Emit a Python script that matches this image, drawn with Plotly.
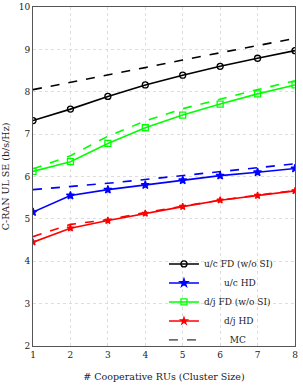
import plotly.graph_objects as go

x_vals = [1, 2, 3, 4, 5, 6, 7, 8]

uc_fd = [7.32, 7.59, 7.89, 8.16, 8.39, 8.60, 8.79, 8.97]
uc_fd_mc = [8.05, 8.22, 8.39, 8.57, 8.75, 8.92, 9.09, 9.26]
uc_hd = [5.16, 5.55, 5.69, 5.80, 5.91, 6.02, 6.10, 6.19]
uc_hd_mc = [5.69, 5.76, 5.84, 5.93, 6.02, 6.11, 6.20, 6.30]
dj_fd = [6.12, 6.35, 6.78, 7.15, 7.45, 7.71, 7.95, 8.16]
dj_fd_mc = [6.18, 6.49, 6.95, 7.31, 7.60, 7.83, 8.05, 8.26]
dj_hd = [4.45, 4.78, 4.96, 5.13, 5.29, 5.44, 5.55, 5.66]
dj_hd_mc = [4.58, 4.87, 4.98, 5.15, 5.30, 5.44, 5.56, 5.67]

y_ticks = [2, 3, 4, 5, 6, 7, 8, 9, 10]

NB = "\u00a0"
series = [
    ("u/c FD (w/o SI)", uc_fd, uc_fd_mc, "black", "circle-open", 6),
    (NB * 7 + "u/c HD", uc_hd, uc_hd_mc, "#0000ff", "star", 6),
    ("d/j FD (w/o SI)", dj_fd, dj_fd_mc, "#00ff00", "square-open", 6),
    (NB * 7 + "d/j HD", dj_hd, dj_hd_mc, "#ff0000", "star", 5),
]

fig = go.Figure()
for name, vals, mc, col, sym, ms in series:
    fig.add_trace(go.Scatter(
        x=x_vals, y=mc, mode="lines", showlegend=False,
        line=dict(color=col, width=1.6, dash="dash")))
for name, vals, mc, col, sym, ms in series:
    fig.add_trace(go.Scatter(
        x=x_vals, y=vals, mode="lines+markers", name=name,
        line=dict(color=col, width=1.6),
        marker=dict(symbol=sym, size=ms, color=col,
                    line=dict(color=col, width=1.3))))
fig.add_trace(go.Scatter(
    x=[None], y=[None], mode="lines", name=NB * 9 + "MC",
    line=dict(color="black", width=1, dash="dash")))

axis_common = dict(
    showline=True, linecolor="#555555", linewidth=1, mirror=True,
    showgrid=True, gridcolor="#dddddd", griddash="dot", gridwidth=1,
    zeroline=False, ticks="", tickfont=dict(size=9, color="#222222"),
    automargin=False, ticklabeloverflow="allow",
)
fig.update_xaxes(range=[1, 8], tickvals=x_vals, **axis_common,
                 title=dict(text="# Cooperative RUs (Cluster Size)",
                            font=dict(size=9.5, color="#222222"), standoff=14))
fig.update_yaxes(range=[2, 10], tickvals=y_ticks, **axis_common,
                 title=dict(text="C-RAN UL SE (b/s/Hz)",
                            font=dict(size=9.5, color="#222222"), standoff=10))

fig.update_layout(
    width=303, height=388,
    margin=dict(l=33, r=8, t=7, b=42),
    paper_bgcolor="white", plot_bgcolor="white",
    font=dict(family="DejaVu Serif, Liberation Serif, serif", size=9, color="#222222"),
    legend=dict(x=0.935, y=0.13, xanchor="right", yanchor="middle",
                bgcolor="rgba(255,255,255,0)", borderwidth=0,
                font=dict(size=9), tracegroupgap=0, itemwidth=30),
)
fig.write_html("out.html", config={"displayModeBar": False},
               post_script="document.body.style.margin='0';document.body.style.overflow='hidden';")
